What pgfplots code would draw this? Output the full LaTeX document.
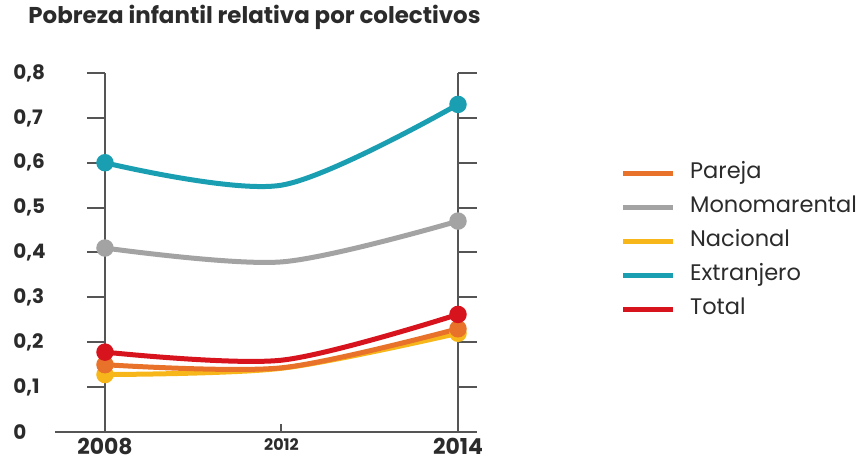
\documentclass[border=0pt]{standalone}
\usepackage{pgfplots}
\pgfplotsset{compat=1.18}
\usepackage{fontspec}
\setmainfont{Poppins}
\definecolor{cPareja}{HTML}{E8722A}
\definecolor{cMono}{HTML}{A3A3A3}
\definecolor{cNac}{HTML}{F7B71A}
\definecolor{cExt}{HTML}{1A9FB2}
\definecolor{cTot}{HTML}{D7141E}
\definecolor{axisgray}{HTML}{555555}
\definecolor{txt}{HTML}{2B2B2B}
\begin{document}
\begin{tikzpicture}
\begin{axis}[
  x=88.25bp, y=224.375bp,
  xmin=-0.2833, xmax=2.1076, ymin=0, ymax=0.8,
  clip=false,
  axis x line=bottom, axis y line=left,
  y axis line style={draw=none},
  x axis line style={axisgray, line width=1bp, -},
  tick align=inside,
  xtick={0,1,2},
  xticklabels={2008,{\fontsize{8}{9}\selectfont 2012},2014},
  x tick style={axisgray, line width=1bp},
  major tick length=4bp,
  xticklabel style={inner sep=0pt, anchor=north, yshift=-3bp, font=\fontsize{11}{12}\selectfont\bfseries, text=txt},
  ytick={0,0.1,0.2,0.3,0.4,0.5,0.6,0.7,0.8},
  y tick style={draw=none},
  yticklabel style={inner sep=0pt, anchor=west, xshift=-21bp, font=\fontsize{10}{12}\selectfont\bfseries, text=txt,
    /pgf/number format/.cd, use comma, fixed, precision=1},
  /pgf/number format/assume math mode=true,
  every axis plot/.append style={line width=2.5bp, smooth, mark=*, mark size=3.1bp, mark indices={1,3}},
  legend style={draw=none, fill=none, at={(axis description cs:1.325,0.7577)}, anchor=north west,
    font=\fontsize{11.3}{13}\selectfont, text=txt, row sep=8bp, column sep=7bp,
    nodes={inner sep=0pt, text height=7bp, text depth=2bp, anchor=west}},
  legend cell align=left,
  legend image code/.code={\draw[#1, line width=2.8bp] (0bp,0bp) -- (25bp,0bp);},
]
\draw[axisgray, line width=1bp] (axis cs:0,0) -- (axis cs:0,0.8);
\draw[axisgray, line width=1bp] (axis cs:2,0) -- (axis cs:2,0.8);
\pgfplotsinvokeforeach{0.1,0.2,0.3,0.4,0.5,0.6,0.7,0.8}{
  \draw[axisgray, line width=1bp] (axis cs:0,#1) -- ++(-9bp,0bp);
  \draw[axisgray, line width=1bp] (axis cs:2,#1) -- ++(9.5bp,0bp);
}
\addplot[color=cMono, forget plot] coordinates {(0,0.41) (1,0.379) (2,0.47)};
\addplot[color=cExt, forget plot] coordinates {(0,0.60) (1,0.550) (2,0.73)};
\addplot[color=cNac, forget plot] coordinates {(0,0.128) (1,0.142) (2,0.22)};
\addplot[color=cPareja, forget plot] coordinates {(0,0.15) (1,0.143) (2,0.23)};
\addplot[color=cTot, forget plot] coordinates {(0,0.178) (1,0.160) (2,0.262)};
\addlegendimage{color=cPareja}\addlegendentry{Pareja}
\addlegendimage{color=cMono}\addlegendentry{Monomarental}
\addlegendimage{color=cNac}\addlegendentry{Nacional}
\addlegendimage{color=cExt}\addlegendentry{Extranjero}
\addlegendimage{color=cTot}\addlegendentry{Total}
\node[anchor=west, inner sep=0pt, font=\fontsize{11.5}{13}\selectfont\bfseries, text=txt] at (axis cs:-0.4363,0.9248) {Pobreza infantil relativa por colectivos};
\coordinate (bl) at (axis cs:-0.5949,-0.06908);
\coordinate (tr) at (axis cs:4.3003,0.96267);
\end{axis}
\pgfresetboundingbox
\path[use as bounding box] (bl) rectangle (tr);
\end{tikzpicture}
\end{document}
